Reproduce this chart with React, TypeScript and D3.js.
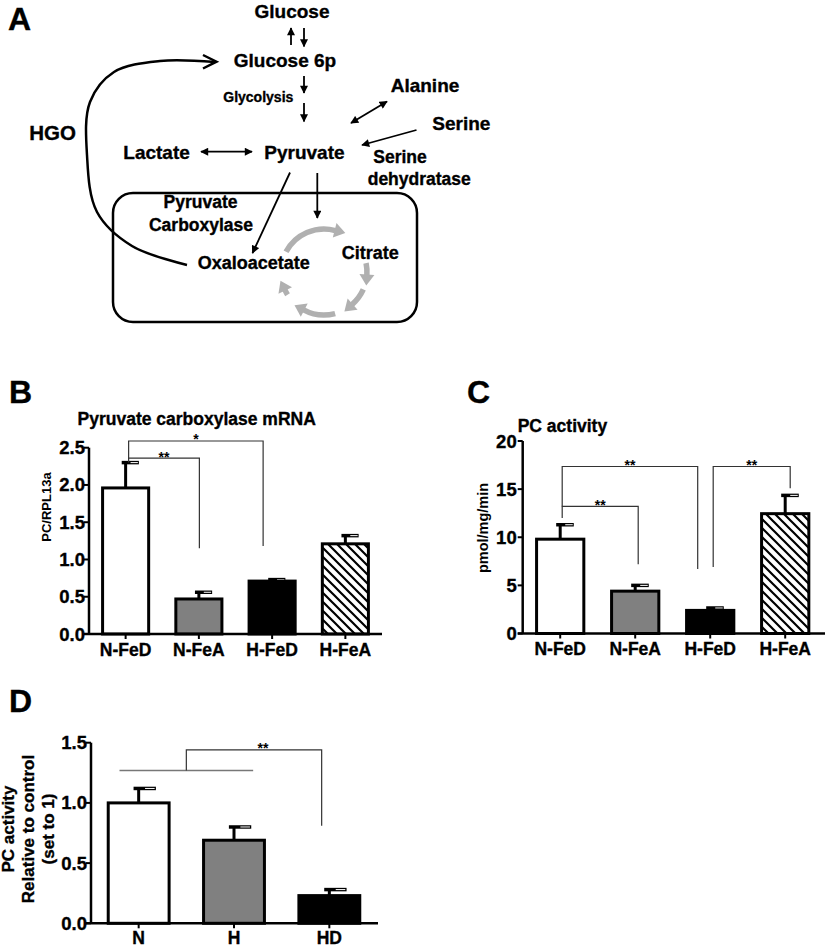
import * as d3 from "d3";

const FONT = '"Liberation Sans", Arial, Helvetica, sans-serif';

// panel B: pyruvate carboxylase mRNA
const MRNA_GROUPS = ["N-FeD", "N-FeA", "H-FeD", "H-FeA"];
const MRNA_MEAN = [1.96, 0.47, 0.71, 1.21];
const MRNA_SEM = [0.34, 0.09, 0.02, 0.11];
const MRNA_TICKS = [0, 0.5, 1.0, 1.5, 2.0, 2.5];
const MRNA_BRACKETS = [
  { from: "N-FeD", to: "N-FeA", y: 2.36, leftEnd: 2.3, rightEnd: 1.15, label: "**" },
  { from: "N-FeD", to: "H-FeD", y: 2.59, leftEnd: 2.36, rightEnd: 1.18, label: "*" },
];

// panel C: PC activity
const ACT_GROUPS = ["N-FeD", "N-FeA", "H-FeD", "H-FeA"];
const ACT_MEAN = [9.8, 4.4, 2.4, 12.45];
const ACT_SEM = [1.5, 0.6, 0.25, 1.9];
const ACT_TICKS = [0, 5, 10, 15, 20];
const ACT_BRACKETS = [
  { from: "N-FeD", to: "N-FeA", y: 13.2, leftEnd: 12.0, rightEnd: 7.2, label: "**" },
  { from: "N-FeD", to: "H-FeD", y: 17.35, leftEnd: 13.2, rightEnd: 6.7, label: "**" },
  { from: "H-FeD", to: "H-FeA", y: 17.35, leftEnd: 6.9, rightEnd: 15.1, label: "**" },
];

// panel D: relative PC activity
const REL_GROUPS = ["N", "H", "HD"];
const REL_MEAN = [1.0, 0.69, 0.23];
const REL_SEM = [0.12, 0.11, 0.05];
const REL_TICKS = [0, 0.5, 1.0, 1.5];
const REL_POOLED = { from: "N", to: "H", y: 1.27 };
const REL_BRACKET = { to: "HD", y: 1.44, rightEnd: 0.81, label: "**" };

const FILLS = ["#ffffff", "#808080", "#000000", "url(#hatch)"];

// bold text a touch heavier, like the scanned figure
const HEAVY = { stroke: "#000", strokeWidth: 0.35 };

type Bracket = { from: string; to: string; y: number; leftEnd: number; rightEnd: number; label: string };

function BarPanel(props: {
  groups: string[];
  mean: number[];
  sem: number[];
  ticks: number[];
  domainMax: number;
  fmt: (v: number) => string;
  left: number;
  right: number;
  bottom: number;
  top: number;
  axisEnd: number;
  labelGap: number;
  xLabelY: number;
  brackets?: Bracket[];
  nudges?: number[][];
}) {
  const { groups, mean, sem, ticks, domainMax, fmt, left, right, bottom, top, axisEnd, labelGap, xLabelY } = props;
  const x = d3.scaleBand().domain(groups).range([left, right]).paddingInner(0.33).paddingOuter(0.165);
  const y = d3.scaleLinear().domain([0, domainMax]).range([bottom, top]);
  const bw = x.bandwidth();
  const cx = (g: string) => (x(g) as number) + bw / 2;

  return (
    <g fontFamily={FONT} fontWeight="bold">
      {groups.map((g, i) => {
        const x0 = x(g) as number;
        const yt = y(mean[i]);
        const ye = y(mean[i] + sem[i]);
        const c = cx(g);
        return (
          <g key={g}>
            <line x1={c} x2={c} y1={yt} y2={ye} stroke="#000" strokeWidth={3} />
            <line x1={c - bw * 0.08} x2={c + bw * 0.27} y1={ye} y2={ye} stroke="#000" strokeWidth={3.5} />
            <line x1={c + bw * 0.1} x2={c + bw * 0.25} y1={ye} y2={ye} stroke="#fff" strokeWidth={1} />
            <rect x={x0 + 1.5} y={yt} width={bw - 3} height={bottom - yt} fill={FILLS[i]} stroke="#000" strokeWidth={3} />
          </g>
        );
      })}
      {/* y axis */}
      <line x1={left} x2={left} y1={y(domainMax)} y2={bottom} stroke="#000" strokeWidth={2.5} />
      {ticks.map((t) => (
        <g key={t}>
          <line x1={left - 5} x2={left} y1={y(t)} y2={y(t)} stroke="#000" strokeWidth={2} />
          <text x={left - labelGap} y={y(t) + 6.5} textAnchor="end" fontSize={18.5} {...HEAVY}>
            {fmt(t)}
          </text>
        </g>
      ))}
      {/* x axis */}
      <line x1={left - 5} x2={axisEnd} y1={bottom} y2={bottom} stroke="#000" strokeWidth={2.5} />
      {groups.map((g) => (
        <g key={g}>
          <line x1={cx(g)} x2={cx(g)} y1={bottom} y2={bottom + 5} stroke="#000" strokeWidth={2} />
          <text x={cx(g)} y={xLabelY} textAnchor="middle" fontSize={17.5} {...HEAVY}>
            {g}
          </text>
        </g>
      ))}
      {(props.brackets || []).map((b, i) => {
        const n = (props.nudges && props.nudges[i]) || [2, 2];
        const xa = cx(b.from) + n[0];
        const xb = cx(b.to) + n[1];
        const yy = y(b.y);
        return (
          <g key={i}>
            <path
              d={`M${xa},${y(b.leftEnd)} V${yy} H${xb} V${y(b.rightEnd)}`}
              fill="none"
              stroke="#333"
              strokeWidth={1.2}
            />
            <text x={(xa + xb) / 2} y={yy + 3.5} textAnchor="middle" fontSize={14}>
              {b.label}
            </text>
          </g>
        );
      })}
    </g>
  );
}

// gray TCA cycle arrows
function TcaCycle() {
  const cx = 324;
  const cy = 272;
  const r = 43;
  const segs = [
    [-62, 29],
    [78, 108],
    [114, 153],
    [165, 222],
    [238, 259],
  ];
  const rad = (a: number) => (a * Math.PI) / 180;
  const pt = (a: number, rr = r) => [cx + rr * Math.sin(rad(a)), cy - rr * Math.cos(rad(a))];
  const headLen = 11;
  const headW = 7.5;
  return (
    <g>
      {segs.map(([a0, a1], i) => {
        const dA = (headLen / r) * (180 / Math.PI);
        const aBase = a1 - dA;
        const p0 = pt(a0);
        const p1 = pt(aBase + 1);
        const large = aBase - a0 > 180 ? 1 : 0;
        const b = pt(aBase);
        const t = [Math.cos(rad(aBase)), Math.sin(rad(aBase))];
        const o = [Math.sin(rad(aBase)), -Math.cos(rad(aBase))];
        const tip = [b[0] + t[0] * headLen, b[1] + t[1] * headLen];
        const h1 = [b[0] + o[0] * headW, b[1] + o[1] * headW];
        const h2 = [b[0] - o[0] * headW, b[1] - o[1] * headW];
        return (
          <g key={i}>
            <path
              d={`M${p0[0]},${p0[1]} A${r},${r} 0 ${large} 1 ${p1[0]},${p1[1]}`}
              fill="none"
              stroke="#b0b0b0"
              strokeWidth={5.5}
            />
            <path d={`M${h1[0]},${h1[1]} L${tip[0]},${tip[1]} L${h2[0]},${h2[1]} Z`} fill="#b0b0b0" />
          </g>
        );
      })}
    </g>
  );
}

function PanelA() {
  const hgo = d3.line().curve(d3.curveCatmullRom)([
    [187, 265],
    [132, 246],
    [97, 212],
    [87, 155],
    [90, 102],
    [114, 72],
    [160, 61],
    [215, 62],
  ]) as string;
  const arrow = (x1: number, y1: number, x2: number, y2: number, both = false) => (
    <line
      x1={x1}
      y1={y1}
      x2={x2}
      y2={y2}
      stroke="#000"
      strokeWidth={1.8}
      markerEnd="url(#ah)"
      markerStart={both ? "url(#ah)" : undefined}
    />
  );
  return (
    <g fontFamily={FONT} fontWeight="bold" fill="#000">
      <rect x={113} y={193} width={304} height={129} rx={20} fill="none" stroke="#000" strokeWidth={2.5} />
      <path d={hgo} fill="none" stroke="#000" strokeWidth={2.5} />
      <path d="M203,55 L216.5,61.7 L203,68.5" fill="none" stroke="#000" strokeWidth={2.5} />
      <TcaCycle />
      {arrow(291, 45, 291, 28)}
      {arrow(304, 28, 304, 46.5)}
      {arrow(304, 76, 304, 93)}
      {arrow(304, 103, 304, 121.5)}
      {arrow(351, 123, 387, 101.5, true)}
      {arrow(416.5, 130, 362, 145)}
      {arrow(201, 151.7, 252, 151.7, true)}
      {arrow(290, 172.5, 252.5, 253)}
      {arrow(317.3, 173, 317.3, 218)}
      <g {...HEAVY}>
        <text x={292} y={18.3} textAnchor="middle" fontSize={19}>Glucose</text>
        <text x={285} y={66.7} textAnchor="middle" fontSize={19}>Glucose 6p</text>
        <text x={258.3} y={101.5} textAnchor="middle" fontSize={14}>Glycolysis</text>
        <text x={390.7} y={91.7} fontSize={19}>Alanine</text>
        <text x={432.3} y={130} fontSize={19}>Serine</text>
        <text x={29.3} y={140} fontSize={20.5}>HGO</text>
        <text x={123.3} y={159} fontSize={19}>Lactate</text>
        <text x={264.3} y={159} fontSize={19}>Pyruvate</text>
        <text x={373.3} y={163.3} fontSize={17.5}>Serine</text>
        <text x={367.7} y={185} fontSize={17.5}>dehydratase</text>
        <text x={200.5} y={208.3} textAnchor="middle" fontSize={17.5}>Pyruvate</text>
        <text x={201} y={230.7} textAnchor="middle" fontSize={17.5}>Carboxylase</text>
        <text x={197.7} y={269.3} fontSize={18}>Oxaloacetate</text>
        <text x={341.7} y={259.3} fontSize={18}>Citrate</text>
      </g>
    </g>
  );
}

function PanelD() {
  const left = 91;
  const right = 377;
  const bottom = 923.3;
  const top = 742.7;
  const x = d3.scaleBand().domain(REL_GROUPS).range([left, right]).paddingInner(0.33).paddingOuter(0.165);
  const y = d3.scaleLinear().domain([0, 1.5]).range([bottom, top]);
  const bw = x.bandwidth();
  const xa = (x(REL_POOLED.from) as number) + bw * 0.2;
  const xb = (x(REL_POOLED.to) as number) + bw * 0.8;
  const xm = (xa + xb) / 2;
  const xe = (x(REL_BRACKET.to) as number) + bw * 0.38;
  return (
    <g>
      <BarPanel
        groups={REL_GROUPS}
        mean={REL_MEAN}
        sem={REL_SEM}
        ticks={REL_TICKS}
        domainMax={1.5}
        fmt={d3.format(".1f")}
        left={left}
        right={right}
        bottom={bottom}
        top={top}
        axisEnd={378}
        labelGap={4}
        xLabelY={944}
      />
      <line x1={xa} x2={xb} y1={y(REL_POOLED.y)} y2={y(REL_POOLED.y)} stroke="#777" strokeWidth={1.5} />
      <path
        d={`M${xm},${y(REL_POOLED.y)} V${y(REL_BRACKET.y)} H${xe} V${y(REL_BRACKET.rightEnd)}`}
        fill="none"
        stroke="#333"
        strokeWidth={1.2}
      />
      <text
        x={(xm + xe) / 2 + 9}
        y={y(REL_BRACKET.y) + 3.5}
        textAnchor="middle"
        fontSize={14}
        fontFamily={FONT}
        fontWeight="bold"
      >
        {REL_BRACKET.label}
      </text>
    </g>
  );
}

export default function App() {
  return (
    <div style={{ position: "absolute", left: 0, top: 0 }}>
      <svg width={827} height={948} style={{ display: "block" }}>
        <defs>
          <marker
            id="ah"
            viewBox="0 0 10 10"
            refX={9}
            refY={5}
            markerWidth={9}
            markerHeight={8}
            markerUnits="userSpaceOnUse"
            orient="auto-start-reverse"
          >
            <path d="M0,0 L10,5 L0,10 z" fill="#000" />
          </marker>
          <pattern id="hatch" patternUnits="userSpaceOnUse" width={9} height={9}>
            <rect width={9} height={9} fill="#fff" />
            <path d="M-1,-1 L10,10 M-1,8 L1,10 M8,-1 L10,1" stroke="#000" strokeWidth={2.2} />
          </pattern>
        </defs>
        <rect width={827} height={948} fill="#fff" />

        <g fontFamily={FONT} fontWeight="bold" fontSize={32} {...HEAVY}>
          <text x={8} y={30}>A</text>
          <text x={9} y={403}>B</text>
          <text x={467} y={403}>C</text>
          <text x={9} y={711.5}>D</text>
        </g>
        <PanelA />

        {/* B */}
        <text x={196.7} y={425} textAnchor="middle" fontFamily={FONT} fontWeight="bold" fontSize={17.5} {...HEAVY}>
          Pyruvate carboxylase mRNA
        </text>
        <text
          transform="translate(50.5,507) rotate(-90)"
          textAnchor="middle"
          fontFamily={FONT}
          fontWeight="bold"
          fontSize={13}
        >
          PC/RPL13a
        </text>
        <BarPanel
          groups={MRNA_GROUPS}
          mean={MRNA_MEAN}
          sem={MRNA_SEM}
          ticks={MRNA_TICKS}
          domainMax={2.5}
          fmt={d3.format(".1f")}
          left={89}
          right={382}
          bottom={634}
          top={447.7}
          axisEnd={382}
          labelGap={4}
          xLabelY={656}
          brackets={MRNA_BRACKETS}
          nudges={[
            [3, 0.5],
            [3, -9],
          ]}
        />

        {/* C */}
        <text x={517.7} y={431.7} fontFamily={FONT} fontWeight="bold" fontSize={17.5} {...HEAVY}>
          PC activity
        </text>
        <text
          transform="translate(487.5,528) rotate(-90)"
          textAnchor="middle"
          fontFamily={FONT}
          fontWeight="bold"
          fontSize={14.5}
        >
          pmol/mg/min
        </text>
        <BarPanel
          groups={ACT_GROUPS}
          mean={ACT_MEAN}
          sem={ACT_SEM}
          ticks={ACT_TICKS}
          domainMax={20}
          fmt={d3.format("d")}
          left={522.7}
          right={822.7}
          bottom={633.5}
          top={441}
          axisEnd={825}
          labelGap={6}
          xLabelY={655}
          brackets={ACT_BRACKETS}
          nudges={[
            [2, 3],
            [2, -12.5],
            [3, 5],
          ]}
        />

        {/* D */}
        <g fontFamily={FONT} fontWeight="bold" fontSize={17} textAnchor="middle" {...HEAVY}>
          <text transform="translate(14,829) rotate(-90)">PC activity</text>
          <text transform="translate(34,829) rotate(-90)">Relative to control</text>
          <text transform="translate(54,829) rotate(-90)">(set to 1)</text>
        </g>
        <PanelD />
      </svg>
    </div>
  );
}
